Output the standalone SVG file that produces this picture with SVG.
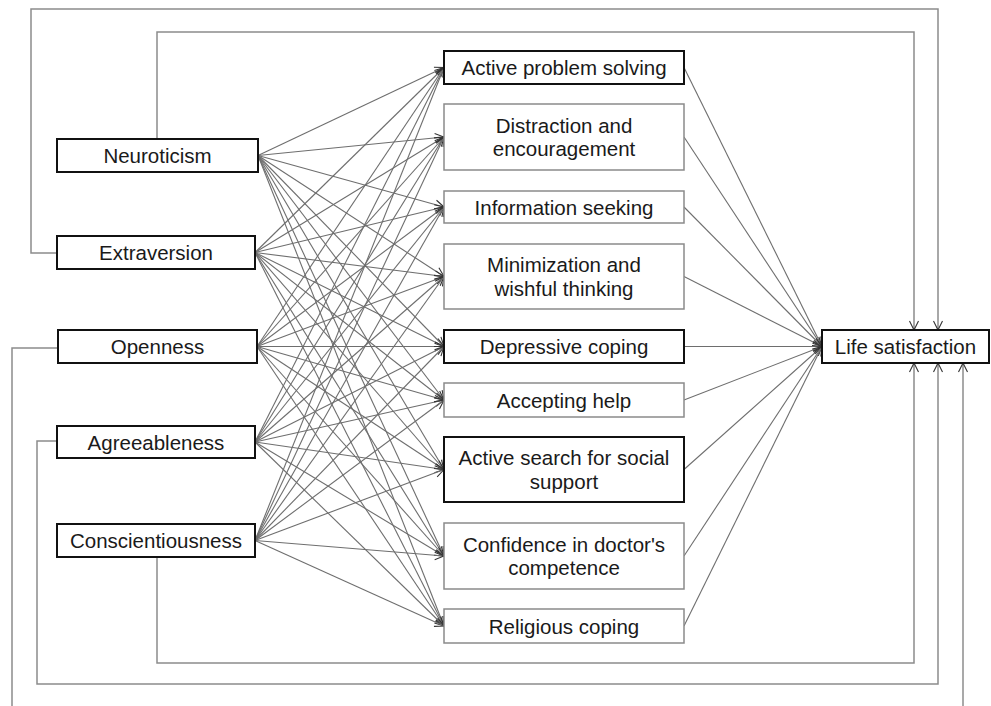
<svg xmlns="http://www.w3.org/2000/svg" width="991" height="706" viewBox="0 0 991 706">
<style>
.bg{fill:#fff}
.bb{fill:#fff;stroke:#111;stroke-width:2}
.tb{fill:#fff;stroke:#8a8a8a;stroke-width:1.5}
.t{font-family:"Liberation Sans",Arial,sans-serif;font-size:20.5px;fill:#1a1a1a;text-anchor:middle}
.c path{fill:none;stroke:#6e6e6e;stroke-width:1.1}
.c .loop{stroke:#8c8c8c;stroke-width:1.5}
</style>
<defs>
<marker id="ah" markerUnits="userSpaceOnUse" markerWidth="12" markerHeight="12" refX="0" refY="0" viewBox="-10 -6 12 12" orient="auto" overflow="visible">
<path d="M-9,-4.5 L0,0 L-9,4.5" fill="none" stroke="#333" stroke-width="1.1"/>
</marker>
</defs>
<rect class="bg" x="0" y="0" width="991" height="706"/>
<g id="connectors" class="c">
<path class="loop" d="M57,253 H31 V9 H938 V330" marker-end="url(#ah)"/>
<path class="loop" d="M157,139 V32 H914 V330" marker-end="url(#ah)"/>
<path class="loop" d="M58,348 H12 V706"/>
<path class="loop" d="M57,441 H37 V684 H938 V363" marker-end="url(#ah)"/>
<path class="loop" d="M157,557 V663 H914 V363" marker-end="url(#ah)"/>
<path class="loop" d="M963,706 V363" marker-end="url(#ah)"/>
<g marker-end="url(#ah)">
<path d="M258,155.5 L444,67.5"/>
<path d="M258,155.5 L444,137"/>
<path d="M258,155.5 L444,207"/>
<path d="M258,155.5 L444,276.5"/>
<path d="M258,155.5 L444,346.5"/>
<path d="M258,155.5 L444,400"/>
<path d="M258,155.5 L444,469.5"/>
<path d="M258,155.5 L444,556"/>
<path d="M258,155.5 L444,626"/>
<path d="M255,252.5 L444,67.5"/>
<path d="M255,252.5 L444,137"/>
<path d="M255,252.5 L444,207"/>
<path d="M255,252.5 L444,276.5"/>
<path d="M255,252.5 L444,346.5"/>
<path d="M255,252.5 L444,400"/>
<path d="M255,252.5 L444,469.5"/>
<path d="M255,252.5 L444,556"/>
<path d="M255,252.5 L444,626"/>
<path d="M257,346.5 L444,67.5"/>
<path d="M257,346.5 L444,137"/>
<path d="M257,346.5 L444,207"/>
<path d="M257,346.5 L444,276.5"/>
<path d="M257,346.5 L444,346.5"/>
<path d="M257,346.5 L444,400"/>
<path d="M257,346.5 L444,469.5"/>
<path d="M257,346.5 L444,556"/>
<path d="M257,346.5 L444,626"/>
<path d="M255,442 L444,67.5"/>
<path d="M255,442 L444,137"/>
<path d="M255,442 L444,207"/>
<path d="M255,442 L444,276.5"/>
<path d="M255,442 L444,346.5"/>
<path d="M255,442 L444,400"/>
<path d="M255,442 L444,469.5"/>
<path d="M255,442 L444,556"/>
<path d="M255,442 L444,626"/>
<path d="M255,540.5 L444,67.5"/>
<path d="M255,540.5 L444,137"/>
<path d="M255,540.5 L444,207"/>
<path d="M255,540.5 L444,276.5"/>
<path d="M255,540.5 L444,346.5"/>
<path d="M255,540.5 L444,400"/>
<path d="M255,540.5 L444,469.5"/>
<path d="M255,540.5 L444,556"/>
<path d="M255,540.5 L444,626"/>
<path d="M684,67.5 L822,346.5"/>
<path d="M684,137 L822,346.5"/>
<path d="M684,207 L822,346.5"/>
<path d="M684,276.5 L822,346.5"/>
<path d="M684,346.5 L822,346.5"/>
<path d="M684,400 L822,346.5"/>
<path d="M684,469.5 L822,346.5"/>
<path d="M684,556 L822,346.5"/>
<path d="M684,626 L822,346.5"/>
</g>
</g>
<g id="neuroticism"><rect class="bb" x="57" y="139" width="201" height="33"/><text class="t" x="157.5" y="163">Neuroticism</text></g>
<g id="extraversion"><rect class="bb" x="57" y="236" width="198" height="33"/><text class="t" x="156" y="260">Extraversion</text></g>
<g id="openness"><rect class="bb" x="58" y="330" width="199" height="33"/><text class="t" x="157.5" y="354">Openness</text></g>
<g id="agreeableness"><rect class="bb" x="57" y="426" width="198" height="32"/><text class="t" x="156" y="449.5">Agreeableness</text></g>
<g id="conscientiousness"><rect class="bb" x="57" y="524" width="198" height="33"/><text class="t" x="156" y="548">Conscientiousness</text></g>
<g id="active-problem-solving"><rect class="bb" x="444" y="51" width="240" height="33"/><text class="t" x="564" y="75">Active problem solving</text></g>
<g id="distraction"><rect class="tb" x="444" y="104" width="240" height="66"/><text class="t" x="564" y="132.5">Distraction and</text><text class="t" x="564" y="156">encouragement</text></g>
<g id="information-seeking"><rect class="tb" x="444" y="191" width="240" height="32"/><text class="t" x="564" y="214.5">Information seeking</text></g>
<g id="minimization"><rect class="tb" x="444" y="244" width="240" height="65"/><text class="t" x="564" y="272">Minimization and</text><text class="t" x="564" y="295.5">wishful thinking</text></g>
<g id="depressive-coping"><rect class="bb" x="444" y="330" width="240" height="33"/><text class="t" x="564" y="354">Depressive coping</text></g>
<g id="accepting-help"><rect class="tb" x="444" y="383" width="240" height="34"/><text class="t" x="564" y="407.5">Accepting help</text></g>
<g id="active-search"><rect class="bb" x="444" y="437" width="240" height="65"/><text class="t" x="564" y="465">Active search for social</text><text class="t" x="564" y="488.5">support</text></g>
<g id="confidence"><rect class="tb" x="444" y="523" width="240" height="66"/><text class="t" x="564" y="551.5">Confidence in doctor's</text><text class="t" x="564" y="575">competence</text></g>
<g id="religious-coping"><rect class="tb" x="444" y="609" width="240" height="34"/><text class="t" x="564" y="633.5">Religious coping</text></g>
<g id="life-satisfaction"><rect class="bb" x="822" y="330" width="167" height="33"/><text class="t" x="905.5" y="354">Life satisfaction</text></g>
</svg>
